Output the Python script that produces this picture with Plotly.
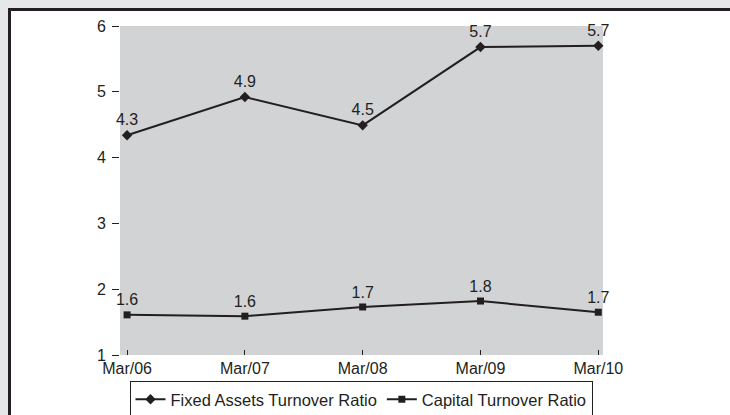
import plotly.graph_objects as go

categories = ["Mar/06", "Mar/07", "Mar/08", "Mar/09", "Mar/10"]
fixed_assets = [4.34, 4.92, 4.49, 5.68, 5.70]
fixed_labels = ["4.3", "4.9", "4.5", "5.7", "5.7"]
capital = [1.61, 1.59, 1.73, 1.82, 1.65]
capital_labels = ["1.6", "1.6", "1.7", "1.8", "1.7"]
y_ticks = [1, 2, 3, 4, 5, 6]

W, H = 730, 415
L, R, T, B = 120, 603, 26, 355  # plot area in pixels
INK = "#231f20"
OUTER = "#e6e7e8"
FONT = "Liberation Sans, Arial, sans-serif"
FS = 16

def px(x):
    return (x - L) / (R - L)

def py(y):
    return (B - y) / (B - T)

fig = go.Figure()
fig.add_trace(go.Scatter(
    x=list(range(len(categories))), y=fixed_assets, mode="lines+markers+text",
    name="Fixed Assets Turnover Ratio", text=fixed_labels, textposition="top center",
    line=dict(color=INK, width=2), marker=dict(symbol="diamond", size=8, color=INK),
    textfont=dict(size=FS, color=INK, family=FONT), cliponaxis=False,
))
fig.add_trace(go.Scatter(
    x=list(range(len(categories))), y=capital, mode="lines+markers+text",
    name="Capital Turnover Ratio", text=capital_labels, textposition="top center",
    line=dict(color=INK, width=2), marker=dict(symbol="square", size=7, color=INK),
    textfont=dict(size=FS, color=INK, family=FONT), cliponaxis=False,
))

shapes = [
    dict(type="rect", xref="paper", yref="paper", x0=px(-5), x1=px(740), y0=py(-5), y1=py(8.5),
         fillcolor=OUTER, line=dict(width=0), layer="below"),
    dict(type="rect", xref="paper", yref="paper", x0=px(-5), x1=px(8.5), y0=py(-5), y1=py(425),
         fillcolor=OUTER, line=dict(width=0), layer="below"),
    dict(type="line", xref="paper", yref="paper", x0=px(8), x1=px(760), y0=py(9.5), y1=py(9.5),
         line=dict(color=INK, width=3)),
    dict(type="line", xref="paper", yref="paper", x0=px(9.5), x1=px(9.5), y0=py(8), y1=py(440),
         line=dict(color=INK, width=3)),
]

fig.update_layout(
    width=W, height=H,
    margin=dict(l=L, r=W - R, t=T, b=H - B, pad=0, autoexpand=False),
    paper_bgcolor="white", plot_bgcolor="#d1d3d4",
    font=dict(family=FONT, size=FS, color=INK),
    showlegend=True,
    legend=dict(orientation="h", x=px(361), xanchor="center", y=py(381), yanchor="top",
                bordercolor=INK, borderwidth=1, bgcolor="white",
                font=dict(size=16.5, color=INK, family=FONT), itemwidth=30),
    shapes=shapes,
    xaxis=dict(range=[-0.06, 4.04], tickmode="array", tickvals=list(range(len(categories))),
               ticktext=categories, ticks="inside", ticklen=5, tickcolor=INK, tickwidth=1,
               showgrid=False, zeroline=False, showline=False, ticklabelstandoff=2,
               tickfont=dict(size=FS, color=INK, family=FONT), fixedrange=True),
    yaxis=dict(range=[1, 6], tickmode="array", tickvals=y_ticks, ticks="outside",
               ticklen=7, tickcolor=INK, tickwidth=1, showgrid=False, zeroline=False,
               showline=False, ticklabelstandoff=3,
               tickfont=dict(size=FS, color=INK, family=FONT), fixedrange=True),
)

fig.write_html(
    "out.html",
    config={"displayModeBar": False},
    default_width="730px",
    default_height="415px",
    post_script="document.documentElement.style.overflow='hidden';document.body.style.margin='0';document.body.style.overflow='hidden';",
)
